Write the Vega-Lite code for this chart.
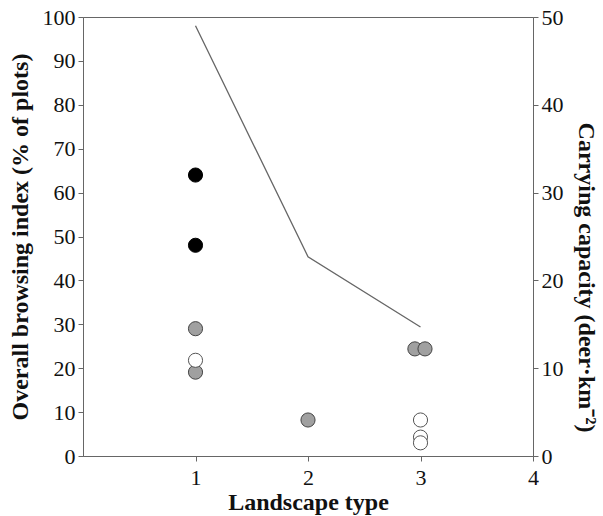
{
  "$schema": "https://vega.github.io/schema/vega-lite/v6.json",
  "width": 450,
  "height": 439,
  "autosize": {"type": "none"},
  "padding": {"left": 83, "top": 17, "right": 70, "bottom": 60},
  "background": "white",
  "config": {
    "view": {"stroke": "#666", "strokeWidth": 1},
    "font": "Liberation Serif",
    "axis": {
      "domainColor": "#666",
      "tickColor": "#666",
      "grid": false,
      "labelFont": "Liberation Serif",
      "labelFontSize": 22,
      "labelColor": "#111",
      "titleFont": "Liberation Serif",
      "titleFontSize": 24,
      "titleFontWeight": "bold",
      "titleColor": "#111",
      "tickSize": 5
    }
  },
  "datasets": {
    "browse": [
      {"landscape": 1, "index": 64, "group": "black"},
      {"landscape": 1, "index": 48, "group": "black"},
      {"landscape": 1, "index": 29, "group": "gray"},
      {"landscape": 1, "index": 19.1, "group": "gray"},
      {"landscape": 1, "index": 21.8, "group": "open"},
      {"landscape": 2, "index": 8.2, "group": "gray"},
      {"landscape": 2.95, "index": 24.4, "group": "gray"},
      {"landscape": 3.04, "index": 24.4, "group": "gray"},
      {"landscape": 3, "index": 8.2, "group": "open"},
      {"landscape": 3, "index": 4.3, "group": "open"},
      {"landscape": 3, "index": 3.0, "group": "open"}
    ],
    "capacity": [
      {"landscape": 1, "capacity": 49},
      {"landscape": 2, "capacity": 22.7},
      {"landscape": 3, "capacity": 14.7}
    ]
  },
  "layer": [
    {
      "data": {"name": "capacity"},
      "mark": {"type": "line", "color": "#666", "strokeWidth": 1.3},
      "encoding": {
        "x": {"field": "landscape", "type": "quantitative", "scale": {"domain": [0, 4]},
              "axis": {"values": [1, 2, 3, 4], "format": "d", "title": "Landscape type", "labelPadding": 6, "titlePadding": 2, "labelFlush": false}},
        "y": {"field": "capacity", "type": "quantitative", "scale": {"domain": [0, 50]},
              "axis": {"orient": "right", "values": [0, 10, 20, 30, 40, 50], "title": "Carrying capacity (deer·km⁻²)", "titleAngle": 90, "titlePadding": 10, "titleY": 260, "labelPadding": 3}}
      }
    },
    {
      "data": {"name": "browse"},
      "mark": {"type": "point", "filled": true, "size": 200, "opacity": 1, "strokeWidth": 1},
      "encoding": {
        "x": {"field": "landscape", "type": "quantitative", "scale": {"domain": [0, 4]}},
        "y": {"field": "index", "type": "quantitative", "scale": {"domain": [0, 100]},
              "axis": {"orient": "left", "values": [0, 10, 20, 30, 40, 50, 60, 70, 80, 90, 100], "title": "Overall browsing index (% of plots)", "titlePadding": 10, "labelPadding": 3}},
        "fill": {"field": "group", "type": "nominal", "scale": {"domain": ["black", "gray", "open"], "range": ["#000000", "#a0a0a0", "#ffffff"]}, "legend": null},
        "stroke": {"field": "group", "type": "nominal", "scale": {"domain": ["black", "gray", "open"], "range": ["#000000", "#444444", "#555555"]}, "legend": null}
      }
    }
  ],
  "resolve": {"scale": {"y": "independent"}}
}
